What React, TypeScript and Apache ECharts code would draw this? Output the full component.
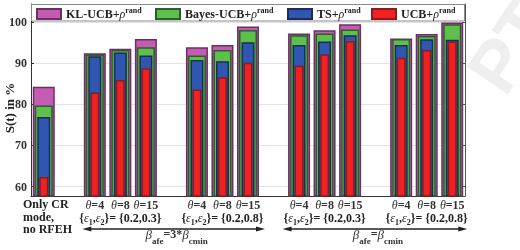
import React, { useEffect, useRef } from "react";
import * as echarts from "echarts";

const SERIF = "Liberation Serif";
const SANS = "Liberation Sans";

// one slot per bar position; the blank slots separate the scenario groups
const slots = ["base", "gap1", "a4", "a8", "a15", "gap2", "b4", "b8", "b15", "gap3", "c4", "c8", "c15", "gap4", "d4", "d8", "d15"];
const thetaLabels = ["", "", "4", "8", "15", "", "4", "8", "15", "", "4", "8", "15", "", "4", "8", "15"];

// S(t) in % for each policy
const klUcb = [84.3, "-", 92.4, 93.5, 95.9, "-", 93.9, 94.4, 98.9, "-", 97.2, 98.0, 99.5, "-", 96.0, 97.1, 99.9];
const bayesUcb = [79.7, "-", 92.1, 93.2, 93.9, "-", 91.9, 93.2, 98.1, "-", 96.8, 97.2, 98.2, "-", 95.9, 96.6, 99.5];
const tsRand = [76.9, "-", 91.7, 92.6, 91.9, "-", 90.8, 90.5, 95.1, "-", 94.4, 95.3, 96.8, "-", 94.4, 95.8, 95.7];
const ucbRand = [62.3, "-", 82.9, 85.9, 88.8, "-", 83.6, 86.6, 90.1, "-", 89.4, 92.2, 95.4, "-", 91.3, 93.2, 95.3];

const epsilonPairs = ["{0.2,0.3}", "{0.2,0.8}", "{0.2,0.3}", "{0.2,0.8}"];
const epsilonSlots = [3, 7, 11, 15];
const betaRelations = ["=3*", "="];
const betaSpans = [[2, 8], [10, 16]];

const yTitle = "S(t) in %";
const yMin = 57.7;
const yMax = 104.4;

const seriesSpec = [
  { name: "KL-UCB", data: klUcb, fill: "#c45cb1", edge: "#6e2e66", width: 22 },
  { name: "Bayes-UCB", data: bayesUcb, fill: "#5dc04b", edge: "#2d5e2e", width: 18 },
  { name: "TS", data: tsRand, fill: "#2f56b1", edge: "#1c2b57", width: 13 },
  { name: "UCB", data: ucbRand, fill: "#ef2222", edge: "#8c1b1b", width: 9 },
];
const legendLeft = [36, 155, 287, 371];

export default function App() {
  const ref = useRef<HTMLDivElement>(null);

  useEffect(() => {
    if (!ref.current) return;
    const chart = echarts.init(ref.current, undefined, { renderer: "svg" });

    const legendRich = {
      r: { fontFamily: SERIF, fontSize: 12, fontStyle: "italic", fontWeight: "normal", color: "#222", lineHeight: 14 },
      sup: { fontFamily: SERIF, fontSize: 8, fontWeight: "bold", color: "#222", lineHeight: 14, padding: [0, 0, 8, 0] },
    };

    const xAxes = seriesSpec.map((_, i) => ({
      type: "category",
      data: slots,
      gridIndex: 0,
      boundaryGap: true,
      show: i === 0,
      axisLine: { show: true, lineStyle: { color: "#333", width: 1 } },
      axisTick: { show: false },
      splitLine: { show: false },
      axisLabel: {
        interval: 0,
        margin: 2,
        color: "#333",
        formatter: (_v: string, idx: number) =>
          thetaLabels[idx] ? `{t|θ}{v|=${thetaLabels[idx]}}` : "",
        rich: {
          t: { fontFamily: SERIF, fontSize: 12, fontStyle: "italic", fontWeight: "normal", color: "#333", lineHeight: 14 },
          v: { fontFamily: SERIF, fontSize: 12, fontWeight: "bold", color: "#333", lineHeight: 14 },
        },
      },
    }));

    const option: any = {
      animation: false,
      textStyle: { fontFamily: SERIF },
      grid: { left: 31, right: 55, top: 4, bottom: 54, outerBoundsMode: "none" },
      legend: seriesSpec.map((s, i) => ({
        data: [s.name],
        left: legendLeft[i],
        top: 6,
        padding: 0,
        icon: "rect",
        itemWidth: 24,
        itemHeight: 10,
        textStyle: { fontFamily: SERIF, fontSize: 12, fontWeight: "bold", color: "#222", lineHeight: 14, rich: legendRich },
        formatter: (name: string) => `${name}+{r|ρ}{sup|rand}`,
      })),
      xAxis: xAxes,
      yAxis: [
        {
          type: "value",
          min: yMin,
          max: yMax,
          axisLine: { show: true, lineStyle: { color: "#333", width: 1 } },
          axisTick: { show: true, inside: true, length: 3, lineStyle: { color: "#333" } },
          axisLabel: {
            showMinLabel: false,
            showMaxLabel: false,
            margin: 4,
            fontFamily: SERIF,
            fontSize: 12,
            fontWeight: "bold",
            color: "#333",
          },
          splitLine: { show: true, lineStyle: { color: "#e4e4e4", width: 1 } },
        },
        {
          type: "value",
          min: yMin,
          max: yMax,
          position: "right",
          axisLine: { show: true, lineStyle: { color: "#555", width: 1 } },
          axisTick: { show: true, inside: true, length: 3, lineStyle: { color: "#555" } },
          axisLabel: { show: false },
          splitLine: { show: false },
        },
      ],
      series: seriesSpec.map((s, i) => ({
        type: "bar",
        name: s.name,
        data: s.data,
        xAxisIndex: i,
        yAxisIndex: 0,
        barWidth: s.width,
        z: 2 + i,
        itemStyle: { color: s.fill, borderColor: s.edge, borderWidth: 1.5 },
      })),
    };

    chart.setOption(option);

    const px = (i: number) => chart.convertToPixel({ xAxisIndex: 0 }, i) as number;
    const ink = "#222";
    const graphics: any[] = [];

    // faint stamp in the right margin, hidden behind the chart backdrop
    graphics.push({
      type: "text",
      x: 536,
      y: 8,
      rotation: (56 * Math.PI) / 180,
      z: -10,
      silent: true,
      style: {
        text: "PT",
        fontFamily: SANS,
        fontSize: 72,
        fontWeight: "bold",
        fill: "#efefef",
        align: "right",
        verticalAlign: "middle",
      },
    });
    graphics.push({
      type: "rect",
      z: -9,
      silent: true,
      shape: { x: 0, y: 0, width: 467, height: 250 },
      style: { fill: "#fff" },
    });

    // legend frame
    graphics.push({
      type: "rect",
      z: 1,
      shape: { x: 31.5, y: 4.5, width: 433, height: 16.5 },
      style: { fill: "#fff", stroke: "#8a8a8a", lineWidth: 1 },
    });

    // vertical axis title
    graphics.push({
      type: "text",
      x: 9,
      y: 108,
      rotation: Math.PI / 2,
      style: {
        text: yTitle,
        fontFamily: SERIF,
        fontSize: 13,
        fontWeight: "bold",
        fill: ink,
        align: "center",
        verticalAlign: "middle",
      },
    });

    graphics.push({
      type: "text",
      x: 23,
      y: 198,
      style: {
        text: "Only CR\nmode,\nno RFEH",
        fontFamily: SERIF,
        fontSize: 12,
        fontWeight: "bold",
        lineHeight: 12.5,
        fill: ink,
        align: "left",
        verticalAlign: "top",
      },
    });

    const epsRich = {
      e: { fontFamily: SERIF, fontSize: 12, fontStyle: "italic", fontWeight: "normal", fill: ink, lineHeight: 14 },
      s: { fontFamily: SERIF, fontSize: 8, fontWeight: "bold", fill: ink, lineHeight: 14, padding: [8, 0, 0, 0] },
    };
    epsilonPairs.forEach((pair, k) => {
      graphics.push({
        type: "text",
        x: px(epsilonSlots[k]),
        y: 211,
        style: {
          text: "{" + "{e|ε}{s|1},{e|ε}{s|2}" + "}= " + pair,
          fontFamily: SERIF,
          fontSize: 12,
          fontWeight: "bold",
          lineHeight: 14,
          fill: ink,
          align: "center",
          verticalAlign: "top",
          rich: epsRich,
        },
      });
    });

    const betaRich = {
      bi: { fontFamily: SERIF, fontSize: 13, fontStyle: "italic", fontWeight: "normal", fill: "#333", lineHeight: 14 },
      b: { fontFamily: SERIF, fontSize: 12, fontWeight: "bold", fill: "#333", lineHeight: 14 },
      sub: { fontFamily: SERIF, fontSize: 9, fontWeight: "bold", fill: "#333", lineHeight: 14, padding: [14, 0, 0, 0] },
    };
    const arrowY = 229;
    const headLen = 9;
    const headHalf = 2.6;
    betaSpans.forEach(([a, b], k) => {
      const x1 = k === 0 ? px(a) - 12.5 : px(a) - 16.5;
      const x2 = k === 0 ? px(b) + 17 : px(b) + 15;
      graphics.push({
        type: "line",
        shape: { x1: x1 + 4, y1: arrowY, x2: x2 - 4, y2: arrowY },
        style: { stroke: ink, lineWidth: 1.4 },
      });
      graphics.push({
        type: "polygon",
        shape: { points: [[x1, arrowY], [x1 + headLen, arrowY - headHalf], [x1 + headLen, arrowY + headHalf]] },
        style: { fill: ink },
      });
      graphics.push({
        type: "polygon",
        shape: { points: [[x2, arrowY], [x2 - headLen, arrowY - headHalf], [x2 - headLen, arrowY + headHalf]] },
        style: { fill: ink },
      });
      graphics.push({
        type: "text",
        x: (x1 + x2) / 2 + 3,
        y: 227,
        style: {
          text: `{bi|β}{sub|afe}{b|${betaRelations[k]}}{bi|β}{sub|cmin}`,
          fontFamily: SERIF,
          fontSize: 12,
          lineHeight: 14,
          fill: "#333",
          align: "center",
          verticalAlign: "top",
          rich: betaRich,
        },
      });
    });

    chart.setOption({ graphic: { elements: graphics } });

    return () => chart.dispose();
  }, []);

  return <div ref={ref} style={{ position: "fixed", left: 0, top: 0, width: 520, height: 250 }} />;
}
